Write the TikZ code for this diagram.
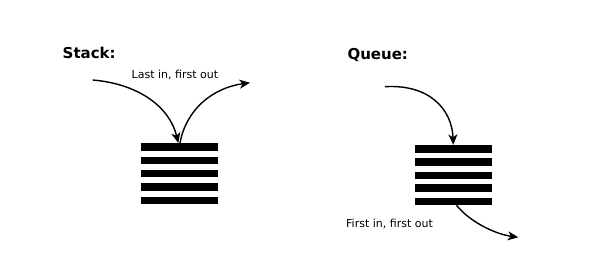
\documentclass[tikz,border=0pt]{standalone}
\usepackage{fontspec}
\setmainfont{DejaVu Sans}
\usetikzlibrary{arrows.meta}
\begin{document}
\begin{tikzpicture}[x=1pt,y=-1pt,
  bar/.style={rectangle,fill=black,draw=none,minimum width=77pt,minimum height=7.5pt,inner sep=0pt},
  title/.style={font=\fontsize{15}{18}\selectfont\bfseries,anchor=base west,inner sep=0pt},
  lab/.style={font=\fontsize{11}{13}\selectfont,anchor=base west,inner sep=0pt},
  flow/.style={line width=1.4pt,-{Stealth[length=10.5pt,width=9pt,inset=3pt]}}]
\path[use as bounding box] (0,0) rectangle (612,271);
% Stack
\node[title] (stt) at (62.5,58.3) {Stack:};
\node[lab] (stl) at (131.5,78.3) {Last in, first out};
\foreach \i/\y in {1/147,2/160.3,3/173.7,4/187,5/200.3}
  \node[bar] (s\i) at (179,\y) {};
\coordinate (sin) at (92.7,80);
\coordinate (sout) at (250,82.7);
\draw[flow] (sin) .. controls (140,84) and (170,108) .. ([xshift=-0.7pt]s1.north);
\draw[flow] ([xshift=1pt]s1.north) .. controls (186,110) and (212,88) .. (sout);
% Queue
\node[title] (qt) at (347.3,59.3) {Queue:};
\node[lab] (ql) at (346,227.3) {First in, first out};
\foreach \i/\y in {1/148.8,2/162,3/175.3,4/188.2,5/201.3}
  \node[bar] (q\i) at (453.5,\y) {};
\coordinate (qin) at (385,86.7);
\coordinate (qout) at (518.3,237.3);
\draw[flow] (qin) .. controls (430,84) and (452,110) .. ([xshift=-0.2pt]q1.north);
\draw[flow] ([xshift=3pt]q5.south) .. controls (470,222) and (495,234) .. (qout);
\end{tikzpicture}
\end{document}
